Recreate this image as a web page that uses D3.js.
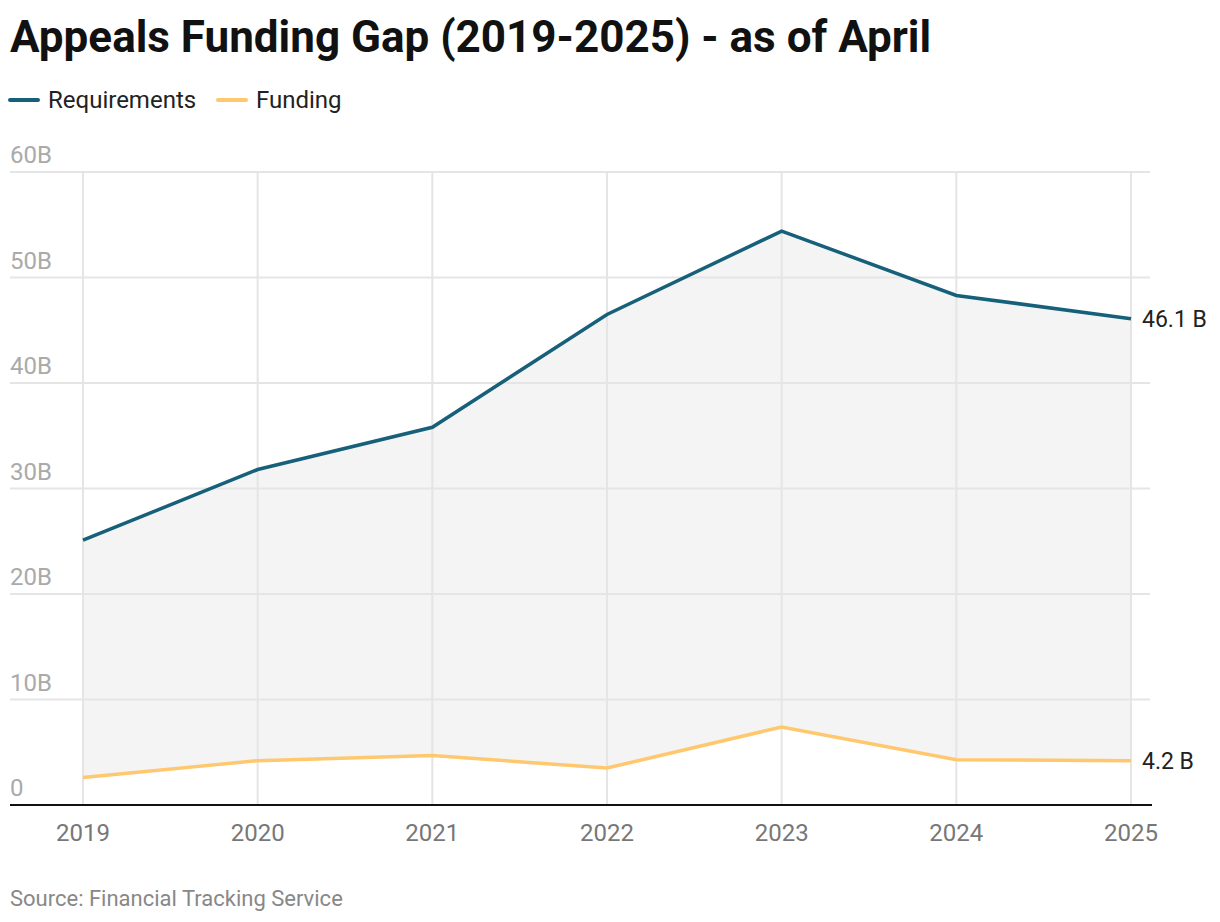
<!DOCTYPE html>
<html>
<head>
<meta charset="utf-8">
<script src="https://cdn.jsdelivr.net/npm/d3@7"></script>
<style>
  body { margin: 0; background: #fff; font-family: Roboto, sans-serif; }
</style>
</head>
<body>
<svg id="canvas" width="1220" height="922"></svg>
<script>
let years = [2019, 2020, 2021, 2022, 2023, 2024, 2025];
let requirements = [25.1, 31.8, 35.8, 46.5, 54.4, 48.3, 46.1];
let funding = [2.6, 4.2, 4.7, 3.5, 7.4, 4.3, 4.2];
let yTicks = [0, 10, 20, 30, 40, 50, 60];

let svg = d3.select('#canvas');

let x = d3.scaleLinear().domain([2019, 2025]).range([83, 1131]);
let y = d3.scaleLinear().domain([0, 60]).range([805, 172]);

// title
svg.append('text')
  .attr('x', 10).attr('y', 52)
  .attr('font-size', 44).attr('font-weight', 'bold').attr('fill', '#111')
  .text('Appeals Funding Gap (2019-2025) - as of April');

// legend
let legend = [['Requirements', '#17607a', 10], ['Funding', '#ffc86e', 218]];
legend.forEach((d) => {
  svg.append('line')
    .attr('x1', d[2]).attr('x2', d[2] + 28).attr('y1', 100).attr('y2', 100)
    .attr('stroke', d[1]).attr('stroke-width', 4).attr('stroke-linecap', 'round');
  svg.append('text')
    .attr('x', d[2] + 38).attr('y', 108)
    .attr('font-size', 24).attr('fill', '#222')
    .text(d[0]);
});

// gap area between the two series (drawn first so grid shows through)
let rows = years.map((yr, i) => ({ year: yr, req: requirements[i], fund: funding[i] }));
svg.append('path')
  .datum(rows)
  .attr('d', d3.area()
    .x((d) => x(d.year))
    .y0((d) => y(d.fund))
    .y1((d) => y(d.req)))
  .attr('fill', '#f4f4f4');

// horizontal grid + y labels
svg.selectAll('.hgrid')
  .data(yTicks)
  .enter()
  .append('line')
  .attr('x1', 10).attr('x2', 1150)
  .attr('y1', (d) => y(d)).attr('y2', (d) => y(d))
  .attr('stroke', '#e5e5e5').attr('stroke-width', 2);

svg.selectAll('.ylab')
  .data(yTicks)
  .enter()
  .append('text')
  .attr('x', 10).attr('y', (d) => y(d) - 9)
  .attr('font-size', 24).attr('fill', '#aaa')
  .text((d) => d === 0 ? '0' : d + 'B');

// vertical grid
svg.selectAll('.vgrid')
  .data(years)
  .enter()
  .append('line')
  .attr('x1', (d) => x(d)).attr('x2', (d) => x(d))
  .attr('y1', y(60)).attr('y2', y(0))
  .attr('stroke', '#e5e5e5').attr('stroke-width', 2);

// lines
let line = (key) => d3.line().x((d) => x(d.year)).y((d) => y(d[key]));
svg.append('path').datum(rows).attr('d', line('req'))
  .attr('fill', 'none').attr('stroke', '#17607a').attr('stroke-width', 3.5);
svg.append('path').datum(rows).attr('d', line('fund'))
  .attr('fill', 'none').attr('stroke', '#ffc86e').attr('stroke-width', 3.5);

// end labels
let last = rows[rows.length - 1];
svg.append('text').attr('x', x(2025) + 11).attr('y', y(last.req) + 8)
  .attr('font-size', 23).attr('fill', '#222').text(last.req.toFixed(1) + ' B');
svg.append('text').attr('x', x(2025) + 11).attr('y', y(last.fund) + 8)
  .attr('font-size', 23).attr('fill', '#222').text(last.fund.toFixed(1) + ' B');

// x axis
svg.append('line')
  .attr('x1', 10).attr('x2', 1152).attr('y1', y(0)).attr('y2', y(0))
  .attr('stroke', '#111').attr('stroke-width', 2);

svg.selectAll('.xlab')
  .data(years)
  .enter()
  .append('text')
  .attr('x', (d) => x(d)).attr('y', 841)
  .attr('text-anchor', 'middle')
  .attr('font-size', 24).attr('fill', '#777')
  .text((d) => d);

// source
svg.append('text')
  .attr('x', 10).attr('y', 906)
  .attr('font-size', 22).attr('fill', '#888')
  .text('Source: Financial Tracking Service');
</script>
</body>
</html>
